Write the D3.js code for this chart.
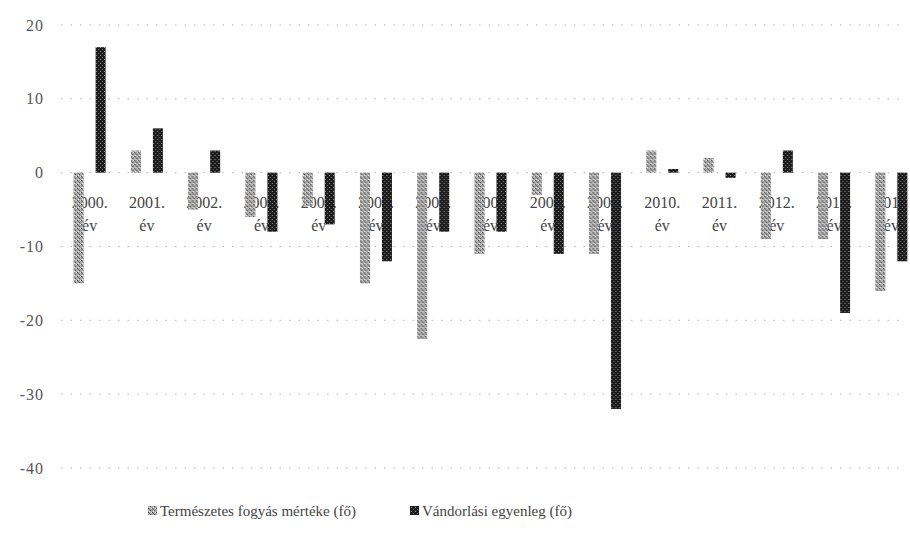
<!DOCTYPE html>
<html>
<head>
<meta charset="utf-8">
<script src="https://cdn.jsdelivr.net/npm/d3@7"></script>
<style>
  body { margin: 0; background: #fff; }
  text { font-family: "Liberation Serif", "DejaVu Serif", serif; }
</style>
</head>
<body>
<div id="chart"></div>
<script>
// years on the category axis
const years = ["2000.", "2001.", "2002.", "2003.", "2004.", "2005.", "2006.", "2007",
  "2008.", "2009.", "2010.", "2011.", "2012.", "2013.", "2014"]

const seriesNames = ["Természetes fogyás mértéke (fő)", "Vándorlási egyenleg (fő)"]

// natural decrease
const termeszetes = [-15, 3, -5, -6, -4.5, -15, -22.5, -11, -3, -11, 3, 2, -9, -9, -16]
// migration balance
const vandorlasi = [17, 6, 3, -8, -7, -12, -8, -8, -11, -32, 0.5, -0.7, 3, -19, -12]

const yTicks = [20, 10, 0, -10, -20, -30, -40]

const W = 910
const H = 534
const plot = { left: 61, right: 920, top: 25, bottom: 468 }

const svg = d3.select("#chart")
  .append("svg")
  .attr("width", W)
  .attr("height", H)

// speckled fills, like the scanned hatching
const defs = svg.append("defs")
const light = defs.append("pattern")
  .attr("id", "patLight")
  .attr("width", 4).attr("height", 4)
  .attr("patternUnits", "userSpaceOnUse")
light.append("rect").attr("width", 4).attr("height", 4).attr("fill", "#a6a6a6")
light.append("rect").attr("x", 0).attr("y", 0).attr("width", 1).attr("height", 1).attr("fill", "#444")
light.append("rect").attr("x", 2).attr("y", 2).attr("width", 1).attr("height", 1).attr("fill", "#555")
light.append("rect").attr("x", 1).attr("y", 1).attr("width", 1).attr("height", 1).attr("fill", "#777")
light.append("rect").attr("x", 3).attr("y", 0).attr("width", 1).attr("height", 1).attr("fill", "#e6e6e6")
light.append("rect").attr("x", 1).attr("y", 3).attr("width", 1).attr("height", 1).attr("fill", "#eee")

const dark = defs.append("pattern")
  .attr("id", "patDark")
  .attr("width", 4).attr("height", 4)
  .attr("patternUnits", "userSpaceOnUse")
dark.append("rect").attr("width", 4).attr("height", 4).attr("fill", "#1c1c1c")
dark.append("rect").attr("x", 1).attr("y", 1).attr("width", 1).attr("height", 1).attr("fill", "#777")
dark.append("rect").attr("x", 3).attr("y", 3).attr("width", 1).attr("height", 1).attr("fill", "#999")

const fills = ["url(#patLight)", "url(#patDark)"]

const x0 = d3.scaleBand()
  .domain(years)
  .range([plot.left, plot.right])

const x1 = d3.scaleBand()
  .domain([0, 1])
  .range([x0.bandwidth() / 2 - 16, x0.bandwidth() / 2 + 16])
  .paddingInner(0.545)

const y = d3.scaleLinear()
  .domain([-40, 20])
  .range([plot.bottom, plot.top])

// gridlines
svg.append("g")
  .selectAll("line")
  .data(yTicks)
  .join("line")
  .attr("x1", plot.left)
  .attr("x2", 905)
  .attr("y1", d => y(d))
  .attr("y2", d => y(d))
  .attr("stroke", "#b4b4b4")
  .attr("stroke-width", 1)
  .attr("stroke-dasharray", "1.5,8")

// y axis labels (plain hyphen, as in the original)
svg.append("g")
  .attr("transform", `translate(44,0)`)
  .call(d3.axisLeft(y).tickValues(yTicks).tickSize(0).tickPadding(0).tickFormat(d => String(d)))
  .call(g => g.select(".domain").remove())
  .call(g => g.selectAll("text")
    .style("font-family", "'Liberation Serif', serif")
    .attr("font-size", 16)
    .attr("letter-spacing", 1)
    .attr("fill", "#555"))

const rows = years.map((yr, i) => ({ year: yr, values: [termeszetes[i], vandorlasi[i]] }))

// category labels, sitting at the zero line
const labels = svg.append("g")
  .selectAll("text")
  .data(rows)
  .join("text")
  .attr("text-anchor", "middle")
  .attr("font-size", 16)
  .attr("fill", "#444")
labels.append("tspan")
  .attr("x", d => x0(d.year) + x0.bandwidth() / 2)
  .attr("y", y(0) + 35)
  .text(d => d.year)
labels.append("tspan")
  .attr("x", d => x0(d.year) + x0.bandwidth() / 2)
  .attr("y", y(0) + 58)
  .text("év")

// bars
svg.append("g")
  .selectAll("g")
  .data(rows)
  .join("g")
  .attr("transform", d => `translate(${x0(d.year)},0)`)
  .selectAll("rect")
  .data(d => d.values.map((v, k) => ({ k, v })))
  .join("rect")
  .attr("x", d => x1(d.k))
  .attr("width", x1.bandwidth())
  .attr("y", d => y(Math.max(0, d.v)))
  .attr("height", d => Math.abs(y(d.v) - y(0)))
  .attr("fill", d => fills[d.k])

// legend
const legend = svg.append("g")
  .attr("font-size", 15)
  .attr("fill", "#444")
const legendX = [148, 410]
seriesNames.forEach((name, k) => {
  legend.append("rect")
    .attr("x", legendX[k])
    .attr("y", 506)
    .attr("width", 9)
    .attr("height", 9)
    .attr("fill", fills[k])
  legend.append("text")
    .attr("x", legendX[k] + 12)
    .attr("y", 516)
    .text(name)
})
</script>
</body>
</html>
